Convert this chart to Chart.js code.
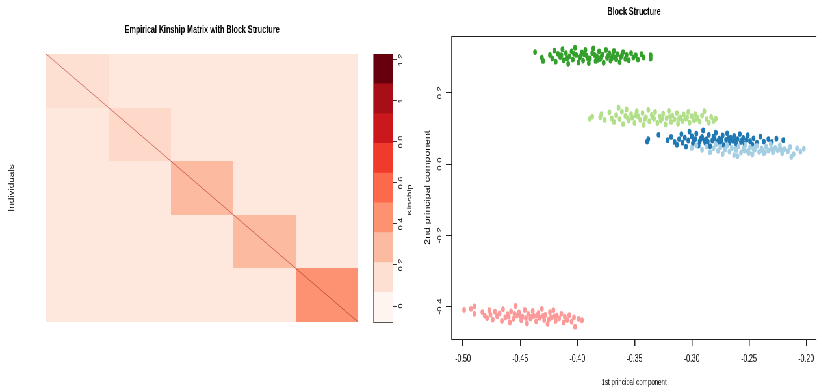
<!DOCTYPE html>
<html>
<head>
<meta charset="utf-8">
<script src="https://cdn.jsdelivr.net/npm/chart.js@4.4.1/dist/chart.umd.min.js"></script>
<style>
  html, body { margin: 0; padding: 0; background: #fff; overflow: hidden; }
  /* the reference is squeezed horizontally, so draw wide and squash */
  #page { position: absolute; left: 0; top: 0; width: 1259px; height: 388px; transform: scaleX(0.65); transform-origin: 0 0; }
  #page canvas { position: absolute; top: 0; }
</style>
</head>
<body>
<div id="page">
  <canvas id="kinship" width="622" height="388" style="left:0;width:622px;height:388px"></canvas>
  <canvas id="legendBar" width="96" height="388" style="left:554px;width:96px;height:388px"></canvas>
  <canvas id="pca" width="616" height="388" style="left:643px;width:616px;height:388px"></canvas>
</div>
<script>
// ---- kinship matrix (5 blocks of 100 individuals) ----
const nIndividuals = 500;
const blockEdges = [0, 100, 200, 300, 400, 500];
const kinshipBlocks = [
  [0.14, 0.09, 0.09, 0.09, 0.09],
  [0.09, 0.17, 0.09, 0.09, 0.09],
  [0.09, 0.09, 0.285, 0.09, 0.09],
  [0.09, 0.09, 0.09, 0.285, 0.09],
  [0.09, 0.09, 0.09, 0.09, 0.43]
];
const selfKinship = [1.0, 1.0, 1.0, 1.0, 1.0];

// ---- colour scale ----
const colorBreaks = [-0.078, 0.067, 0.212, 0.358, 0.503, 0.648, 0.793, 0.938, 1.084, 1.229];
const redsPalette = ['#FFF5F0', '#FEE0D2', '#FCBBA1', '#FC9272', '#FB6A4A', '#EF3B2C', '#CB181D', '#A50F15', '#67000D'];
const colorbarTicks = [0, 0.2, 0.4, 0.6, 0.8, 1, 1.2];
const colorbarTickLabels = ['0', '0.2', '0.4', '0.6', '0.8', '1', '1.2'];
const colorbarTitle = 'Kinship';

// ---- PCA scatter ----
const pcaXTicks = [-0.50, -0.45, -0.40, -0.35, -0.30, -0.25, -0.20];
const pcaXTickLabels = ['-0.50', '-0.45', '-0.40', '-0.35', '-0.30', '-0.25', '-0.20'];
const pcaYTicks = [-0.4, -0.2, 0, 0.2];
const pcaYTickLabels = ['-0.4', '-0.2', '0.0', '0.2'];

const lightBluePoints = [
  [-0.300,0.045],[-0.296,0.052],[-0.291,0.040],[-0.287,0.049],[-0.284,0.033],
  [-0.281,0.044],[-0.279,0.055],[-0.277,0.037],[-0.275,0.047],[-0.273,0.028],
  [-0.271,0.041],[-0.269,0.052],[-0.267,0.035],[-0.265,0.045],[-0.263,0.025],
  [-0.261,0.039],[-0.259,0.050],[-0.257,0.032],[-0.255,0.043],[-0.253,0.054],
  [-0.251,0.036],[-0.249,0.047],[-0.247,0.027],[-0.245,0.040],[-0.243,0.051],
  [-0.241,0.034],[-0.239,0.044],[-0.237,0.030],[-0.235,0.049],[-0.233,0.038],
  [-0.231,0.056],[-0.229,0.033],[-0.227,0.045],[-0.225,0.039],[-0.223,0.052],
  [-0.221,0.030],[-0.219,0.042],[-0.216,0.036],[-0.214,0.048],[-0.211,0.028],
  [-0.208,0.044],[-0.205,0.035],[-0.202,0.043],[-0.213,0.020],[-0.260,0.022],
  [-0.262,0.042],[-0.254,0.038],[-0.246,0.043],[-0.238,0.038],[-0.230,0.042],
  [-0.222,0.040],[-0.250,0.031],[-0.236,0.033]
];
const darkBluePoints = [
  [-0.339,0.063],[-0.338,0.070],[-0.329,0.082],[-0.321,0.067],[-0.318,0.076],
  [-0.315,0.062],[-0.313,0.054],[-0.311,0.070],[-0.309,0.084],[-0.308,0.060],
  [-0.306,0.074],[-0.305,0.049],[-0.303,0.066],[-0.302,0.091],[-0.300,0.078],
  [-0.299,0.058],[-0.297,0.070],[-0.296,0.085],[-0.294,0.052],[-0.293,0.064],
  [-0.291,0.076],[-0.290,0.094],[-0.288,0.059],[-0.287,0.070],[-0.285,0.082],
  [-0.284,0.050],[-0.282,0.066],[-0.281,0.077],[-0.279,0.088],[-0.278,0.058],
  [-0.276,0.071],[-0.275,0.062],[-0.273,0.080],[-0.272,0.053],[-0.270,0.068],
  [-0.269,0.086],[-0.267,0.060],[-0.266,0.074],[-0.264,0.065],[-0.263,0.079],
  [-0.261,0.056],[-0.260,0.070],[-0.258,0.084],[-0.257,0.062],[-0.255,0.073],
  [-0.254,0.058],[-0.252,0.068],[-0.251,0.081],[-0.249,0.064],[-0.247,0.054],
  [-0.246,0.072],[-0.243,0.060],[-0.240,0.077],[-0.237,0.063],[-0.233,0.070],
  [-0.230,0.062],[-0.226,0.071],[-0.220,0.067],
  [-0.298,0.066],[-0.292,0.071],[-0.286,0.063],[-0.280,0.072],[-0.274,0.067],
  [-0.268,0.072],[-0.262,0.066],[-0.256,0.067],[-0.289,0.066],[-0.277,0.064]
];
const lightGreenPoints = [
  [-0.389,0.127],[-0.387,0.133],[-0.380,0.131],[-0.379,0.140],[-0.376,0.124],
  [-0.372,0.145],[-0.370,0.128],[-0.368,0.118],[-0.366,0.137],[-0.364,0.158],
  [-0.363,0.126],[-0.361,0.147],[-0.360,0.112],[-0.358,0.135],[-0.357,0.153],
  [-0.355,0.122],[-0.353,0.140],[-0.352,0.130],[-0.350,0.115],[-0.348,0.148],
  [-0.347,0.134],[-0.345,0.124],[-0.343,0.143],[-0.342,0.110],[-0.340,0.131],
  [-0.338,0.152],[-0.337,0.120],[-0.335,0.138],[-0.333,0.127],[-0.332,0.146],
  [-0.330,0.115],[-0.328,0.133],[-0.327,0.122],[-0.325,0.141],[-0.323,0.111],
  [-0.322,0.129],[-0.320,0.149],[-0.318,0.118],[-0.317,0.136],[-0.315,0.125],
  [-0.313,0.143],[-0.312,0.113],[-0.310,0.131],[-0.308,0.121],[-0.307,0.139],
  [-0.305,0.127],[-0.303,0.146],[-0.302,0.116],[-0.300,0.134],[-0.298,0.123],
  [-0.297,0.140],[-0.295,0.130],[-0.293,0.119],[-0.291,0.136],[-0.289,0.148],
  [-0.287,0.126],[-0.285,0.116],[-0.283,0.132],[-0.281,0.121],[-0.279,0.127],
  [-0.356,0.129],[-0.349,0.137],[-0.341,0.126],[-0.334,0.131],[-0.326,0.128],
  [-0.319,0.132],[-0.311,0.127],[-0.304,0.131],[-0.296,0.126]
];
const greenPoints = [
  [-0.437,0.314],[-0.431,0.298],[-0.430,0.289],
  [-0.424,0.306],[-0.422,0.296],[-0.420,0.318],[-0.419,0.287],[-0.417,0.309],
  [-0.415,0.300],[-0.413,0.322],[-0.412,0.291],[-0.410,0.311],[-0.408,0.281],
  [-0.407,0.302],[-0.405,0.316],[-0.404,0.293],[-0.402,0.326],[-0.401,0.306],
  [-0.399,0.285],[-0.398,0.298],[-0.396,0.313],[-0.395,0.290],[-0.393,0.320],
  [-0.392,0.304],[-0.390,0.283],[-0.389,0.296],[-0.387,0.311],[-0.386,0.324],
  [-0.384,0.289],[-0.383,0.302],[-0.381,0.316],[-0.380,0.295],[-0.378,0.307],
  [-0.377,0.284],[-0.375,0.320],[-0.374,0.298],[-0.372,0.310],[-0.371,0.290],
  [-0.369,0.303],[-0.368,0.317],[-0.366,0.294],[-0.365,0.308],[-0.363,0.286],
  [-0.362,0.300],[-0.360,0.314],[-0.358,0.295],[-0.357,0.306],[-0.355,0.291],
  [-0.353,0.311],[-0.351,0.299],[-0.349,0.305],[-0.347,0.293],[-0.344,0.308],
  [-0.342,0.299],[-0.336,0.305],[-0.336,0.296],
  [-0.414,0.305],[-0.409,0.296],[-0.403,0.309],[-0.397,0.303],[-0.391,0.297],
  [-0.385,0.306],[-0.379,0.301],[-0.373,0.304],[-0.367,0.299],[-0.361,0.305],
  [-0.394,0.308],[-0.382,0.292],[-0.370,0.296]
];
const pinkPoints = [
  [-0.499,-0.409],[-0.493,-0.406],[-0.490,-0.399],[-0.490,-0.420],
  [-0.483,-0.415],[-0.481,-0.425],[-0.479,-0.432],[-0.477,-0.410],[-0.476,-0.422],
  [-0.474,-0.436],[-0.472,-0.414],[-0.470,-0.427],[-0.468,-0.419],[-0.466,-0.440],
  [-0.465,-0.407],[-0.463,-0.430],[-0.461,-0.421],[-0.459,-0.444],[-0.458,-0.413],
  [-0.456,-0.434],[-0.454,-0.398],[-0.453,-0.425],[-0.451,-0.416],[-0.449,-0.438],
  [-0.448,-0.428],[-0.446,-0.409],[-0.444,-0.447],[-0.443,-0.420],[-0.441,-0.433],
  [-0.439,-0.412],[-0.438,-0.426],[-0.436,-0.441],[-0.434,-0.418],[-0.433,-0.431],
  [-0.431,-0.406],[-0.429,-0.437],[-0.428,-0.423],[-0.426,-0.448],[-0.424,-0.415],
  [-0.423,-0.430],[-0.421,-0.410],[-0.419,-0.440],[-0.418,-0.425],[-0.416,-0.433],
  [-0.414,-0.420],[-0.412,-0.444],[-0.411,-0.428],[-0.409,-0.437],[-0.407,-0.424],
  [-0.405,-0.442],[-0.403,-0.430],[-0.402,-0.456],[-0.399,-0.434],[-0.396,-0.438],
  [-0.470,-0.426],[-0.460,-0.428],[-0.450,-0.426],[-0.440,-0.428],[-0.430,-0.426],
  [-0.420,-0.427],[-0.455,-0.420],[-0.445,-0.432],[-0.435,-0.424],[-0.425,-0.436]
];

const fontStack = '"Liberation Sans", Arial, Helvetica, sans-serif';
Chart.defaults.font.family = fontStack;
Chart.defaults.color = '#000';
Chart.defaults.animation = false;

function hexToRgb(h) {
  return [1, 3, 5].map(i => parseInt(h.substr(i, 2), 16));
}

// blend between palette colours at the middle of each break interval
function kinshipColor(v) {
  const mids = redsPalette.map((c, i) => (colorBreaks[i] + colorBreaks[i + 1]) / 2);
  if (v <= mids[0]) return redsPalette[0];
  if (v >= mids[mids.length - 1]) return redsPalette[redsPalette.length - 1];
  let i = 0;
  while (v > mids[i + 1]) i++;
  const t = (v - mids[i]) / (mids[i + 1] - mids[i]);
  const a = hexToRgb(redsPalette[i]), b = hexToRgb(redsPalette[i + 1]);
  const rgb = a.map((c, k) => Math.round(c + (b[k] - c) * t));
  return `rgb(${rgb[0]},${rgb[1]},${rgb[2]})`;
}

const heatmapCells = {
  id: 'heatmapCells',
  beforeDatasetsDraw(chart) {
    const {ctx, scales: {x, y}} = chart;
    ctx.save();
    for (let r = 0; r < kinshipBlocks.length; r++) {
      for (let c = 0; c < kinshipBlocks[r].length; c++) {
        const x0 = Math.round(x.getPixelForValue(blockEdges[c]));
        const x1 = Math.round(x.getPixelForValue(blockEdges[c + 1]));
        const y0 = Math.round(y.getPixelForValue(blockEdges[r]));
        const y1 = Math.round(y.getPixelForValue(blockEdges[r + 1]));
        ctx.fillStyle = kinshipColor(kinshipBlocks[r][c]);
        ctx.fillRect(x0, y0, x1 - x0, y1 - y0);
      }
    }
    // diagonal: every individual with itself
    for (let b = 0; b < selfKinship.length; b++) {
      ctx.fillStyle = kinshipColor(selfKinship[b]);
      for (let i = blockEdges[b]; i < blockEdges[b + 1]; i++) {
        const x0 = x.getPixelForValue(i), x1 = x.getPixelForValue(i + 1);
        const y0 = y.getPixelForValue(i), y1 = y.getPixelForValue(i + 1);
        ctx.fillRect(x0, y0, x1 - x0, y1 - y0);
      }
    }
    ctx.restore();
  }
};

new Chart(document.getElementById('kinship'), {
  type: 'scatter',
  data: {datasets: []},
  options: {
    responsive: false,
    devicePixelRatio: 1,
    layout: {padding: {right: 71, bottom: 66}},
    plugins: {
      legend: {display: false},
      tooltip: {enabled: false},
      title: {
        display: true,
        text: 'Empirical Kinship Matrix with Block Structure',
        fullSize: false,
        font: {size: 11, weight: 'bold'},
        padding: {top: 23.4, bottom: 17.4}
      }
    },
    scales: {
      x: {type: 'linear', min: 0, max: nIndividuals, display: false},
      y: {
        type: 'linear', min: 0, max: nIndividuals, reverse: true,
        ticks: {display: false},
        grid: {display: false},
        border: {display: false},
        title: {display: true, text: 'Individuals', font: {size: 10}, padding: {top: 12.5, bottom: 0}},
        afterFit: s => { s.width = 71; }
      }
    }
  },
  plugins: [heatmapCells]
});

// frame round the colour bar, plus its title read bottom-to-top
const barFrame = {
  id: 'barFrame',
  afterDatasetsDraw(chart) {
    const {ctx, chartArea: a} = chart;
    ctx.save();
    ctx.strokeStyle = '#555';
    ctx.lineWidth = 1;
    ctx.beginPath();
    ctx.moveTo(a.left, a.bottom + 0.5);
    ctx.lineTo(a.right, a.bottom + 0.5);
    ctx.stroke();
    ctx.lineWidth = 1.5;
    ctx.beginPath();
    ctx.moveTo(a.left, a.top);
    ctx.lineTo(a.left, a.bottom + 1);
    ctx.stroke();
    ctx.restore();
  },
  afterDraw(chart) {
    const {ctx, chartArea: a} = chart;
    const ys = chart.scales.y;
    ctx.save();
    ctx.translate(ys.right - 19.2, (a.top + a.bottom) / 2 + 12);
    ctx.rotate(-Math.PI / 2);
    ctx.font = `9.5px ${fontStack}`;
    ctx.fillStyle = '#000';
    ctx.textAlign = 'center';
    ctx.textBaseline = 'middle';
    ctx.fillText(colorbarTitle, 0, 0);
    ctx.restore();
  }
};

new Chart(document.getElementById('legendBar'), {
  type: 'bar',
  data: {
    labels: [colorbarTitle],
    datasets: redsPalette.map((col, i) => ({
      data: [[colorBreaks[i], colorBreaks[i + 1]]],
      backgroundColor: col,
      borderWidth: 0,
      grouped: false,
      barPercentage: 1,
      categoryPercentage: 1
    }))
  },
  options: {
    responsive: false,
    devicePixelRatio: 1,
    layout: {padding: {left: 21, top: 54, bottom: 66}},
    plugins: {legend: {display: false}, tooltip: {enabled: false}},
    scales: {
      x: {display: false},
      y: {
        position: 'right',
        min: colorBreaks[0],
        max: colorBreaks[colorBreaks.length - 1],
        afterBuildTicks: s => { s.ticks = colorbarTicks.map(v => ({value: v})); },
        ticks: {
          callback: (v, i) => colorbarTickLabels[i],
          autoSkip: false, minRotation: 90, maxRotation: 90,
          crossAlign: 'center', padding: 0,
          font: {size: 9}
        },
        grid: {drawOnChartArea: false, tickLength: 5, color: '#333', lineWidth: 1},
        border: {display: false},
        afterFit: s => { s.width = 45; }
      }
    }
  },
  plugins: [barFrame]
});

const plotFrame = {
  id: 'plotFrame',
  beforeDatasetsDraw(chart) {
    const {ctx, chartArea: a} = chart;
    ctx.save();
    ctx.strokeStyle = '#222';
    ctx.lineWidth = 1;
    ctx.beginPath();
    ctx.moveTo(a.left, a.top + 0.5);
    ctx.lineTo(a.right, a.top + 0.5);
    ctx.moveTo(a.left, a.bottom + 0.5);
    ctx.lineTo(a.right, a.bottom + 0.5);
    ctx.stroke();
    ctx.lineWidth = 1.6;
    ctx.beginPath();
    ctx.moveTo(a.left, a.top);
    ctx.lineTo(a.left, a.bottom + 1);
    ctx.stroke();
    ctx.restore();
  }
};

const toXY = pts => pts.map(([x, y]) => ({x, y}));

new Chart(document.getElementById('pca'), {
  type: 'scatter',
  data: {
    datasets: [
      {label: 'Block 1', data: toXY(lightBluePoints), backgroundColor: '#A6CEE3'},
      {label: 'Block 2', data: toXY(darkBluePoints), backgroundColor: '#1F78B4'},
      {label: 'Block 3', data: toXY(lightGreenPoints), backgroundColor: '#B2DF8A'},
      {label: 'Block 4', data: toXY(greenPoints), backgroundColor: '#33A02C'},
      {label: 'Block 5', data: toXY(pinkPoints), backgroundColor: '#FB9A99'}
    ]
  },
  options: {
    responsive: false,
    devicePixelRatio: 1,
    elements: {point: {radius: 2.9, borderWidth: 0, hoverRadius: 0}},
    layout: {padding: 0},
    plugins: {
      legend: {display: false},
      tooltip: {enabled: false},
      title: {
        display: true,
        text: 'Block Structure',
        fullSize: false,
        font: {size: 11, weight: 'bold'},
        padding: {top: 5, bottom: 17.8}
      }
    },
    scales: {
      x: {
        type: 'linear', min: -0.5098, max: -0.191,
        afterBuildTicks: s => { s.ticks = pcaXTicks.map(v => ({value: v})); },
        ticks: {
          callback: (v, i) => pcaXTickLabels[i],
          autoSkip: false, minRotation: 0, maxRotation: 0,
          font: {size: 10.5}, padding: 6.5
        },
        grid: {drawOnChartArea: false, tickLength: 7, color: '#222', lineWidth: 1.5},
        border: {display: false},
        title: {display: true, text: '1st principal component', font: {size: 9.5}, padding: {top: 0, bottom: 0}},
        afterFit: s => { s.height = 49; }
      },
      y: {
        type: 'linear', min: -0.4906, max: 0.359,
        afterBuildTicks: s => { s.ticks = pcaYTicks.map(v => ({value: v})); },
        ticks: {
          callback: (v, i) => pcaYTickLabels[i],
          autoSkip: false, minRotation: 90, maxRotation: 90,
          crossAlign: 'center', padding: 1.4,
          font: {size: 9.5}
        },
        grid: {drawOnChartArea: false, tickLength: 9, color: '#222', lineWidth: 1},
        border: {display: false},
        title: {display: true, text: '2nd principal component', font: {size: 10.5}, padding: {top: 9.1, bottom: 0}},
        afterFit: s => { s.width = 52; }
      }
    }
  },
  plugins: [plotFrame]
});
</script>
</body>
</html>
